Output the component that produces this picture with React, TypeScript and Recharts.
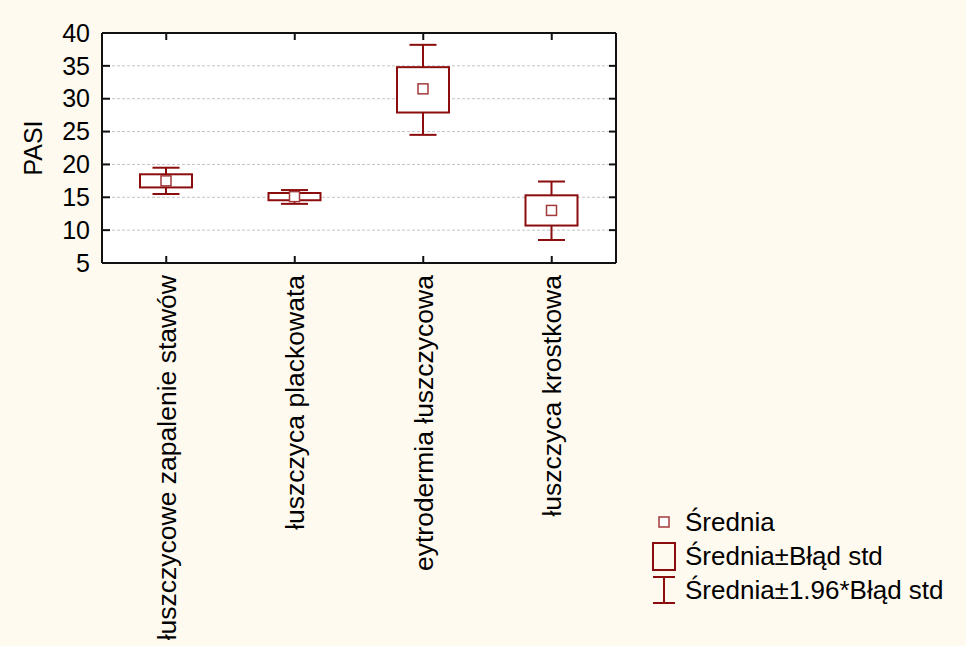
import React from "react";
import { ComposedChart, Bar, Line, XAxis, YAxis, CartesianGrid } from "recharts";

const CATEGORIES = [
  "łuszczycowe zapalenie stawów",
  "łuszczyca plackowata",
  "eytrodermia łuszczycowa",
  "łuszczyca krostkowa",
];
const MEANS = [17.5, 15.1, 31.5, 13.0];
const BOX_LOW = [16.5, 14.55, 27.9, 10.7];
const BOX_HIGH = [18.5, 15.65, 34.8, 15.3];
const WHISKER_LOW = [15.5, 14.0, 24.5, 8.5];
const WHISKER_HIGH = [19.5, 16.1, 38.2, 17.4];
const Y_TICKS = [5, 10, 15, 20, 25, 30, 35, 40];

const LEGEND_ITEMS = ["Średnia", "Średnia±Błąd std", "Średnia±1.96*Błąd std"];

const DARK_RED = "#8b0d0d";
const MEAN_RED = "#a33a3a";
const BG = "#fffaef";
const AXIS = "#111";
const FONT = "'Liberation Sans', Arial, sans-serif";

const data = CATEGORIES.map((name, i) => ({
  name,
  mean: MEANS[i],
  boxLow: BOX_LOW[i],
  boxHigh: BOX_HIGH[i],
  whisker: [WHISKER_LOW[i], WHISKER_HIGH[i]],
}));

// draws whiskers, the SE box and the mean marker; scale taken from the range bar
const BoxShape = (props: any) => {
  const { x, y, width, height, payload } = props;
  if (x == null || y == null) return null;
  const [wl, wh] = payload.whisker;
  const top = Math.min(y, y + height);
  const bottom = Math.max(y, y + height);
  const k = (bottom - top) / (wh - wl);
  const py = (v: number) => top + (wh - v) * k;
  const cx = x + width / 2;
  const capHalf = width * 0.26;
  const bt = py(payload.boxHigh);
  const bb = py(payload.boxLow);
  const my = py(payload.mean);
  return (
    <g>
      <line x1={cx} x2={cx} y1={top} y2={bt} stroke={DARK_RED} strokeWidth={2} />
      <line x1={cx} x2={cx} y1={bb} y2={bottom} stroke={DARK_RED} strokeWidth={2} />
      <line x1={cx - capHalf} x2={cx + capHalf} y1={top} y2={top} stroke={DARK_RED} strokeWidth={2} />
      <line x1={cx - capHalf} x2={cx + capHalf} y1={bottom} y2={bottom} stroke={DARK_RED} strokeWidth={2} />
      <rect x={x} y={bt} width={width} height={bb - bt} fill="#fff" stroke={DARK_RED} strokeWidth={2} />
      <rect x={cx - 5} y={my - 5} width={10} height={10} fill="#fff" stroke={MEAN_RED} strokeWidth={1.5} />
    </g>
  );
};

// inward tick marks are drawn inside the tick renderers
const CategoryTick = (props: any) => {
  const { x, y, payload } = props;
  return (
    <g>
      <line x1={x} x2={x} y1={y} y2={y - 7} stroke={AXIS} strokeWidth={2} />
      <g transform={`translate(${x},${y + 12}) rotate(-90)`}>
        <text x={0} y={0} dy="0.35em" textAnchor="end" fill="#000" fontSize={26.5} fontFamily={FONT}>
          {payload.value}
        </text>
      </g>
    </g>
  );
};

const TopTick = (props: any) => (
  <line x1={props.x} x2={props.x} y1={props.y} y2={props.y + 7} stroke={AXIS} strokeWidth={2} />
);

const LeftTick = (props: any) => {
  const { x, y, payload } = props;
  return (
    <g>
      <line x1={x} x2={x + 8} y1={y} y2={y} stroke={AXIS} strokeWidth={2} />
      <text x={x - 12} y={y} dy="0.35em" textAnchor="end" fill="#000" fontSize={25} fontFamily={FONT}>
        {payload.value}
      </text>
    </g>
  );
};

const RightTick = (props: any) => (
  <line x1={props.x} x2={props.x - 7} y1={props.y} y2={props.y} stroke={AXIS} strokeWidth={2} />
);

const LegendBox = () => (
  <div style={{ position: "absolute", left: 650, top: 505, fontFamily: FONT, fontSize: 26, color: "#000" }}>
    {LEGEND_ITEMS.map((label, i) => (
      <div key={label} style={{ display: "flex", alignItems: "center", height: 34 }}>
        <svg width={30} height={34}>
          {i === 0 && <rect x={9} y={12} width={10} height={10} fill="#fff" stroke={MEAN_RED} strokeWidth={1.5} />}
          {i === 1 && <rect x={3} y={4} width={22} height={27} fill="none" stroke={DARK_RED} strokeWidth={2} />}
          {i === 2 && (
            <g stroke={DARK_RED} strokeWidth={2}>
              <line x1={3} x2={25} y1={4} y2={4} />
              <line x1={14} x2={14} y1={4} y2={30} />
              <line x1={3} x2={25} y1={30} y2={30} />
            </g>
          )}
        </svg>
        <span style={{ marginLeft: 5, lineHeight: "34px" }}>{label}</span>
      </div>
    ))}
  </div>
);

export default function App() {
  const axisLine = { stroke: AXIS, strokeWidth: 2 };
  return (
    <div style={{ position: "relative", width: 966, height: 646, background: BG }}>
      <style>{`body{margin:0;background:${BG}}`}</style>
      {/* white plot background behind the transparent svg */}
      <div style={{ position: "absolute", left: 102, top: 33, width: 514, height: 230, background: "#fff" }} />
      <div style={{ position: "absolute", left: 0, top: 0 }}>
        <ComposedChart
          width={966}
          height={646}
          data={data}
          margin={{ top: 31, right: 348, bottom: 10, left: 10 }}
        >
          <CartesianGrid vertical={false} stroke="#c4c4c4" strokeDasharray="3 2" />
          <XAxis dataKey="name" height={373} interval={0} axisLine={axisLine} tickLine={false} tickSize={0} tickMargin={0} tick={<CategoryTick />} />
          <XAxis xAxisId="top" dataKey="name" orientation="top" height={2} interval={0} axisLine={axisLine} tickLine={false} tickSize={0} tickMargin={0} tick={<TopTick />} />
          <YAxis
            type="number"
            domain={[5, 40]}
            ticks={Y_TICKS}
            interval={0}
            width={92}
            axisLine={axisLine}
            tickLine={false}
            tickSize={0}
            tickMargin={0}
            tick={<LeftTick />}
            label={{ value: "PASI", angle: -90, position: "center", dx: -23, fill: "#000", fontSize: 25, fontFamily: FONT }}
          />
          <YAxis yAxisId="right" orientation="right" type="number" domain={[5, 40]} ticks={Y_TICKS} interval={0} width={2} axisLine={axisLine} tickLine={false} tickSize={0} tickMargin={0} tick={<RightTick />} />
          <Bar dataKey="whisker" barSize={52} shape={<BoxShape />} isAnimationActive={false} />
          {/* invisible series so the right axis gets a scale and draws its ticks */}
          <Line yAxisId="right" dataKey="mean" stroke="none" dot={false} activeDot={false} legendType="none" isAnimationActive={false} />
        </ComposedChart>
      </div>
      <LegendBox />
    </div>
  );
}
